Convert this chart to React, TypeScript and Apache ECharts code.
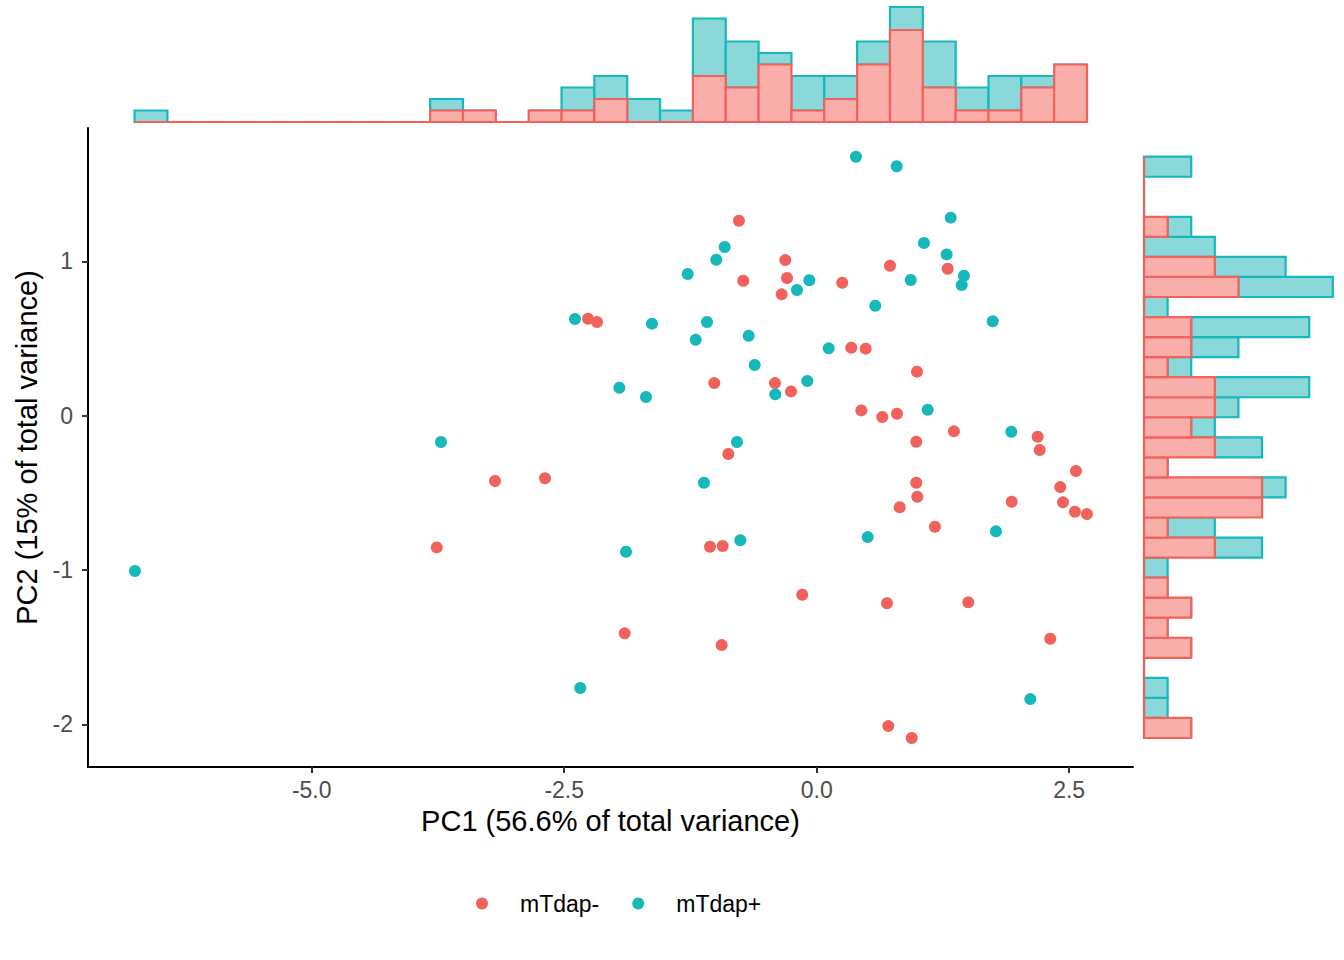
import React, { useEffect, useRef } from 'react';
import * as echarts from 'echarts';

// PCA scores, mTdap- group
const negX = [-0.77, -0.311, -0.727, -0.294, -0.347, 0.253, 0.726, 1.297, -2.264, -2.175, 0.343, 0.485, 0.993, -1.014, -0.413, -0.254, 0.442, 0.65, 0.795, 0.986, 1.359, 2.188, 2.208, -0.875, 2.567, -3.185, -2.69, 0.986, 0.996, 2.412, 2.439, 2.557, 2.676, 1.931, 0.822, 1.171, -3.762, -1.056, -0.931, -0.143, 0.696, 1.501, -1.901, -0.941, 2.313, 0.709, 0.941];
const negY = [1.263, 1.008, 0.874, 0.892, 0.786, 0.861, 0.971, 0.952, 0.628, 0.607, 0.44, 0.434, 0.285, 0.211, 0.211, 0.157, 0.034, -0.009, 0.012, -0.169, -0.102, -0.137, -0.223, -0.249, -0.359, -0.424, -0.406, -0.435, -0.526, -0.463, -0.562, -0.623, -0.638, -0.558, -0.594, -0.72, -0.854, -0.85, -0.845, -1.161, -1.216, -1.21, -1.411, -1.487, -1.446, -2.012, -2.089];

// mTdap+ group
const posX = [0.389, 0.792, 1.327, -0.911, 1.062, 1.287, -0.994, -1.277, -0.073, -0.195, 0.931, 1.458, 1.436, 0.58, -2.393, -1.631, -1.086, -0.673, -1.198, 1.743, 0.119, -0.614, -1.954, -1.69, -0.093, -0.41, 1.099, -3.72, -0.789, 1.927, -1.116, -1.888, -0.756, 0.505, 1.775, -6.75, -2.341, 2.115];
const posY = [1.678, 1.616, 1.283, 1.093, 1.119, 1.045, 1.01, 0.918, 0.877, 0.814, 0.879, 0.907, 0.846, 0.712, 0.626, 0.596, 0.607, 0.518, 0.492, 0.611, 0.436, 0.328, 0.181, 0.121, 0.224, 0.138, 0.038, -0.171, -0.171, -0.104, -0.435, -0.882, -0.808, -0.787, -0.75, -1.007, -1.765, -1.837];

// marginal histogram of PC1 (29 bins, left to right)
const pc1BinStart = -6.754;
const pc1BinWidth = 0.3252;
const pc1NegCounts = [0, 0, 0, 0, 0, 0, 0, 0, 0, 1, 1, 0, 1, 1, 2, 0, 0, 4, 3, 5, 1, 2, 5, 8, 3, 1, 1, 3, 5];
const pc1PosCounts = [1, 0, 0, 0, 0, 0, 0, 0, 0, 1, 0, 0, 0, 2, 2, 2, 1, 5, 4, 1, 3, 2, 2, 2, 4, 2, 3, 1, 0];

// marginal histogram of PC2 (29 bins, bottom to top)
const pc2BinStart = -2.089;
const pc2BinWidth = 0.1299;
const pc2NegCounts = [2, 0, 0, 0, 2, 1, 2, 1, 0, 3, 1, 5, 5, 1, 3, 2, 3, 3, 1, 2, 2, 0, 4, 3, 0, 1, 0, 0, 0];
const pc2PosCounts = [0, 1, 1, 0, 0, 0, 0, 0, 1, 2, 2, 0, 1, 0, 2, 1, 1, 4, 1, 2, 5, 1, 4, 3, 3, 1, 0, 0, 2];

const xTicks = [-5, -2.5, 0, 2.5];
const yTicks = [-2, -1, 0, 1];

const RED = '#F2625C';
const TEAL = '#16B8BB';
const RED_FILL = '#F9AEAA';
const TEAL_FILL = '#8AD8DA';
const FONT = 'Liberation Sans, Arial, Helvetica, sans-serif';

const X_MIN = -7.215;
const X_MAX = 3.132;
const Y_MIN = -2.277;
const Y_MAX = 1.864;

const zip = (xs: number[], ys: number[]) => xs.map((x, i) => [x, ys[i]]);

// stacked bins: [start, end, low, high]
const stackBins = (start: number, width: number, base: number[], top: number[], upper: boolean) =>
    base.map((b, i) => {
        const s = start + i * width;
        return upper ? [s, s + width, b, b + top[i]] : [s, s + width, 0, b];
    });

const topRender = (fill: string, stroke: string) => (params: any, api: any) => {
    const p0 = api.coord([api.value(0), api.value(2)]);
    const p1 = api.coord([api.value(1), api.value(3)]);
    return {
        type: 'rect',
        shape: { x: p0[0], y: p1[1], width: p1[0] - p0[0], height: p0[1] - p1[1] },
        style: { fill, stroke, lineWidth: 2.2 },
    };
};

const rightRender = (fill: string, stroke: string) => (params: any, api: any) => {
    const p0 = api.coord([api.value(2), api.value(0)]);
    const p1 = api.coord([api.value(3), api.value(1)]);
    return {
        type: 'rect',
        shape: { x: p0[0], y: p1[1], width: p1[0] - p0[0], height: p0[1] - p1[1] },
        style: { fill, stroke, lineWidth: 2.2 },
    };
};

const App = () => {
    const chartRef = useRef(null);

    useEffect(() => {
        const chart = echarts.init(chartRef.current, null, { renderer: 'svg' });

        const tickStyle = { show: true, length: 6, lineStyle: { color: '#333333', width: 2 } };

        const options = {
            animation: false,
            textStyle: { fontFamily: FONT },
            grid: [
                { left: 88, top: 128, width: 1045, height: 639 },
                { left: 88, top: 0, width: 1045, height: 122 },
                { left: 1144, top: 128, width: 200, height: 639 },
            ],
            xAxis: [
                {
                    gridIndex: 0,
                    type: 'value',
                    min: X_MIN,
                    max: X_MAX,
                    name: 'PC1 (56.6% of total variance)',
                    nameLocation: 'middle',
                    nameGap: 39,
                    nameTextStyle: { color: '#000', fontSize: 29, fontFamily: FONT },
                    splitLine: { show: false },
                    axisLine: { onZero: false, lineStyle: { color: '#000', width: 2 } },
                    axisTick: { ...tickStyle, customValues: xTicks },
                    axisLabel: {
                        customValues: xTicks,
                        formatter: (v: number) => v.toFixed(1),
                        color: '#4D4D4D',
                        fontSize: 23,
                        margin: 11,
                        fontFamily: FONT,
                    },
                },
                { gridIndex: 1, type: 'value', min: X_MIN, max: X_MAX, show: false },
                { gridIndex: 2, type: 'value', min: 0, max: 200 / 23.6, show: false },
            ],
            yAxis: [
                {
                    gridIndex: 0,
                    type: 'value',
                    min: Y_MIN,
                    max: Y_MAX,
                    name: 'PC2 (15% of total variance)',
                    nameLocation: 'middle',
                    nameRotate: 90,
                    nameGap: 41,
                    nameTextStyle: { color: '#000', fontSize: 29, fontFamily: FONT },
                    splitLine: { show: false },
                    axisLine: { show: true, onZero: false, lineStyle: { color: '#000', width: 2 } },
                    axisTick: { ...tickStyle, customValues: yTicks },
                    axisLabel: {
                        customValues: yTicks,
                        formatter: (v: number) => String(Math.round(v)),
                        color: '#4D4D4D',
                        fontSize: 23,
                        margin: 15,
                        fontFamily: FONT,
                    },
                },
                { gridIndex: 1, type: 'value', min: 0, max: 122 / 11.5, show: false },
                { gridIndex: 2, type: 'value', min: Y_MIN, max: Y_MAX, show: false },
            ],
            legend: {
                data: ['mTdap-', 'mTdap+'],
                left: 471,
                top: 887,
                icon: 'circle',
                itemWidth: 12,
                itemHeight: 12,
                itemGap: 33,
                textStyle: { fontSize: 23, color: '#000', fontFamily: FONT, padding: [0, 0, 0, 27] },
            },
            series: [
                {
                    name: 'histTopPos',
                    type: 'custom',
                    xAxisIndex: 1,
                    yAxisIndex: 1,
                    renderItem: topRender(TEAL_FILL, TEAL),
                    data: stackBins(pc1BinStart, pc1BinWidth, pc1NegCounts, pc1PosCounts, true),
                },
                {
                    name: 'histTopNeg',
                    type: 'custom',
                    xAxisIndex: 1,
                    yAxisIndex: 1,
                    renderItem: topRender(RED_FILL, RED),
                    data: stackBins(pc1BinStart, pc1BinWidth, pc1NegCounts, pc1PosCounts, false),
                },
                {
                    name: 'histRightPos',
                    type: 'custom',
                    xAxisIndex: 2,
                    yAxisIndex: 2,
                    renderItem: rightRender(TEAL_FILL, TEAL),
                    data: stackBins(pc2BinStart, pc2BinWidth, pc2NegCounts, pc2PosCounts, true),
                },
                {
                    name: 'histRightNeg',
                    type: 'custom',
                    xAxisIndex: 2,
                    yAxisIndex: 2,
                    renderItem: rightRender(RED_FILL, RED),
                    data: stackBins(pc2BinStart, pc2BinWidth, pc2NegCounts, pc2PosCounts, false),
                },
                {
                    name: 'mTdap-',
                    type: 'scatter',
                    xAxisIndex: 0,
                    yAxisIndex: 0,
                    symbolSize: 12,
                    itemStyle: { color: RED, opacity: 1 },
                    data: zip(negX, negY),
                },
                {
                    name: 'mTdap+',
                    type: 'scatter',
                    xAxisIndex: 0,
                    yAxisIndex: 0,
                    symbolSize: 12,
                    itemStyle: { color: TEAL, opacity: 1 },
                    data: zip(posX, posY),
                },
            ],
        };

        chart.setOption(options);

        return () => {
            chart.dispose();
        };
    }, []);

    return (
        <div
            ref={chartRef}
            style={{ position: 'absolute', left: 0, top: 0, width: '1344px', height: '960px', background: '#fff' }}
        ></div>
    );
};

export default App;
